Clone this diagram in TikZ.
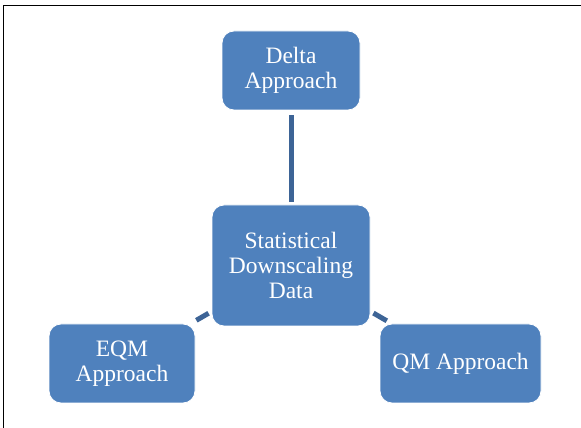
\documentclass[tikz,border=0pt]{standalone}
\usepackage{fontspec}
\setmainfont{Liberation Serif}
\usetikzlibrary{calc}
\definecolor{boxblue}{HTML}{4F81BD}
\definecolor{linkblue}{HTML}{3D6496}
\tikzset{
  appbox/.style={draw=white, line width=0.8pt, fill=boxblue, rounded corners=12pt,
    text=white, align=center, inner sep=0pt,
    font=\fontsize{23.5}{25}\selectfont},
  link/.style={draw=linkblue, line width=5pt}
}
\begin{document}
\begin{tikzpicture}[x=1pt, y=1pt]
\useasboundingbox (0,0) rectangle (581,428);
% frame
\draw[line width=0.8pt] (581,423) -- (3,423) -- (3,0);
% boxes
\node[appbox, minimum width=158pt, minimum height=121pt] (stat) at (291,162.5) {Statistical\\Downscaling\\Data};
\node[appbox, minimum width=138pt, minimum height=79pt] (delta) at (291,357.5) {Delta\\Approach};
\node[appbox, minimum width=146pt, minimum height=79pt] (eqm) at (122,64.5) {EQM\\Approach};
\node[appbox, minimum width=161pt, minimum height=79pt] (qm) at (460.5,64.5) {QM Approach};
% links
\draw[link, shorten <=5pt, shorten >=3pt] (delta) -- (stat);
\draw[link, shorten <=3.5pt, shorten >=6.5pt] (stat) -- (eqm);
\draw[link, shorten <=3.5pt, shorten >=5.5pt] (stat) -- (qm);
\end{tikzpicture}
\end{document}
